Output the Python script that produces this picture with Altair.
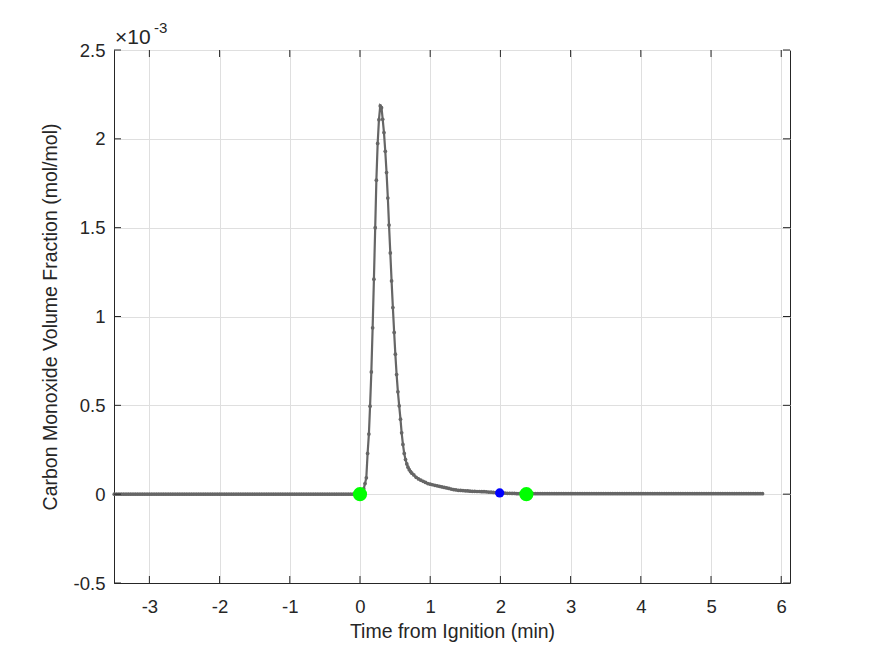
import altair as alt
import pandas as pd

# ---------------- data (CO volume fraction, units of 1e-3 mol/mol) ----------------
# pre-ignition baseline: samples every 2 s from -210 s to -2 s, read as 0
pre_times_s = list(range(-210, 0, 2))
pre_values = [0.0] * len(pre_times_s)

# ignition peak, sampled ~1.08 s
peak_times_s = [0.0, 1.1, 2.2, 3.2, 4.3, 5.4, 6.5, 7.6, 8.6, 9.7, 10.8, 11.9, 13.0,
                14.0, 15.1, 16.2, 17.3, 18.4, 19.4, 20.5, 21.6, 22.7, 23.8, 24.8,
                25.9, 27.0, 28.1, 29.2, 30.2, 31.3, 32.4, 33.5, 34.6, 35.6, 36.7,
                37.8, 38.9, 40.0, 41.0, 42.1, 43.2, 44.3]
peak_values = [0.000, 0.004, 0.012, 0.030, 0.060, 0.092, 0.229, 0.338, 0.495, 0.688,
               0.936, 1.210, 1.500, 1.767, 1.974, 2.108, 2.185, 2.175, 2.110, 2.035,
               1.930, 1.810, 1.667, 1.515, 1.358, 1.200, 1.050, 0.910, 0.788, 0.673,
               0.576, 0.497, 0.422, 0.345, 0.280, 0.229, 0.195, 0.170, 0.152, 0.138,
               0.127, 0.118]

# decay tail, samples every 2 s
tail_times_s = list(range(46, 142, 2))
tail_values = [0.108, 0.095, 0.086, 0.079, 0.072, 0.066, 0.060, 0.056, 0.053, 0.050,
               0.047, 0.044, 0.041, 0.038, 0.035, 0.032, 0.029, 0.026, 0.024, 0.022,
               0.021, 0.020, 0.019, 0.018, 0.017, 0.016, 0.016, 0.015, 0.015, 0.014,
               0.014, 0.013, 0.012, 0.011, 0.010, 0.009, 0.008, 0.007, 0.007, 0.006,
               0.005, 0.005, 0.004, 0.004, 0.003, 0.003, 0.003, 0.003]

# late flat section, samples every 2 s from 142 s to 344 s, read as 0.003
late_times_s = list(range(142, 346, 2))
late_values = [0.003] * len(late_times_s)

# event markers
green_t = [0.0, 2.37]
green_v = [0.0, 0.0]
blue_t = [1.99]
blue_v = [0.007]

x_ticks = [-3, -2, -1, 0, 1, 2, 3, 4, 5, 6]
y_ticks = [-0.5, 0, 0.5, 1, 1.5, 2, 2.5]

# ---------------- build tables ----------------
times_s = pre_times_s + peak_times_s + tail_times_s + late_times_s
values = pre_values + peak_values + tail_values + late_values
df = pd.DataFrame({"t": [s / 60.0 for s in times_s], "v": values})
green_df = pd.DataFrame({"t": green_t, "v": green_v})
blue_df = pd.DataFrame({"t": blue_t, "v": blue_v})
xt_df = pd.DataFrame({"t": x_ticks})
yt_df = pd.DataFrame({"v": y_ticks})

W, H = 676, 533
FONT = "Liberation Sans"
AX = "#262626"

xs = alt.Scale(domain=[-3.504, 6.125], nice=False, zero=False)
ys = alt.Scale(domain=[-0.5, 2.5], nice=False, zero=False)

x_axis = alt.Axis(values=x_ticks, labelExpr="toString(datum.value)", ticks=False,
                  grid=True, gridColor="#dfdfdf", domainColor=AX, labelColor=AX,
                  labelFontSize=18.5, labelFont=FONT, labelPadding=14,
                  title="Time from Ignition (min)", titleFont=FONT, titleFontSize=19.5,
                  titleFontWeight="normal", titleColor=AX, titlePadding=7)
y_axis = alt.Axis(values=y_ticks, labelExpr="toString(datum.value)", ticks=False,
                  grid=True, gridColor="#dfdfdf", domainColor=AX, labelColor=AX,
                  labelFontSize=18.5, labelFont=FONT, labelPadding=9,
                  title="Carbon Monoxide Volume Fraction (mol/mol)", titleFont=FONT,
                  titleFontSize=19.5, titleFontWeight="normal", titleColor=AX,
                  titlePadding=13)

X = alt.X("t:Q", scale=xs, axis=x_axis)
Y = alt.Y("v:Q", scale=ys, axis=y_axis)

line = alt.Chart(df).mark_line(color="#666666", strokeWidth=2.2).encode(x=X, y=Y)
pts = alt.Chart(df).mark_circle(color="#666666", size=14, opacity=1).encode(x=X, y=Y)
green = alt.Chart(green_df).mark_circle(color="#00ff00", size=200, opacity=1).encode(x=X, y=Y)
blue = alt.Chart(blue_df).mark_circle(color="#0000ff", size=85, opacity=1).encode(x=X, y=Y)

# inward tick marks (MATLAB style) on all four sides
xt_bottom = alt.Chart(xt_df).mark_rule(color=AX, strokeWidth=1).encode(
    x=X, y=alt.value(H), y2=alt.value(H - 7))
xt_top = alt.Chart(xt_df).mark_rule(color=AX, strokeWidth=1).encode(
    x=X, y=alt.value(0), y2=alt.value(7))
yt_left = alt.Chart(yt_df).mark_rule(color=AX, strokeWidth=1).encode(
    y=Y, x=alt.value(0), x2=alt.value(7))
yt_right = alt.Chart(yt_df).mark_rule(color=AX, strokeWidth=1).encode(
    y=Y, x=alt.value(W), x2=alt.value(W - 7))

exp_base = alt.Chart(pd.DataFrame({"s": ["×10"]})).mark_text(
    align="left", baseline="alphabetic", font=FONT, fontSize=21, color=AX
).encode(text="s:N", x=alt.value(1), y=alt.value(-6))
exp_sup = alt.Chart(pd.DataFrame({"s": ["-3"]})).mark_text(
    align="left", baseline="alphabetic", font=FONT, fontSize=15, color=AX
).encode(text="s:N", x=alt.value(40), y=alt.value(-17))

chart = alt.layer(
    line, pts, green, blue, xt_bottom, xt_top, yt_left, yt_right, exp_base, exp_sup
).properties(
    width=W, height=H,
    autosize=alt.AutoSizeParams(type="none"),
    padding={"left": 114, "top": 50, "right": 85, "bottom": 73},
    background="white",
).configure_view(
    stroke=AX, strokeWidth=1
).configure_axis(
    domainWidth=1
)

chart.save("out.html", embed_options={"renderer": "svg", "actions": False})
